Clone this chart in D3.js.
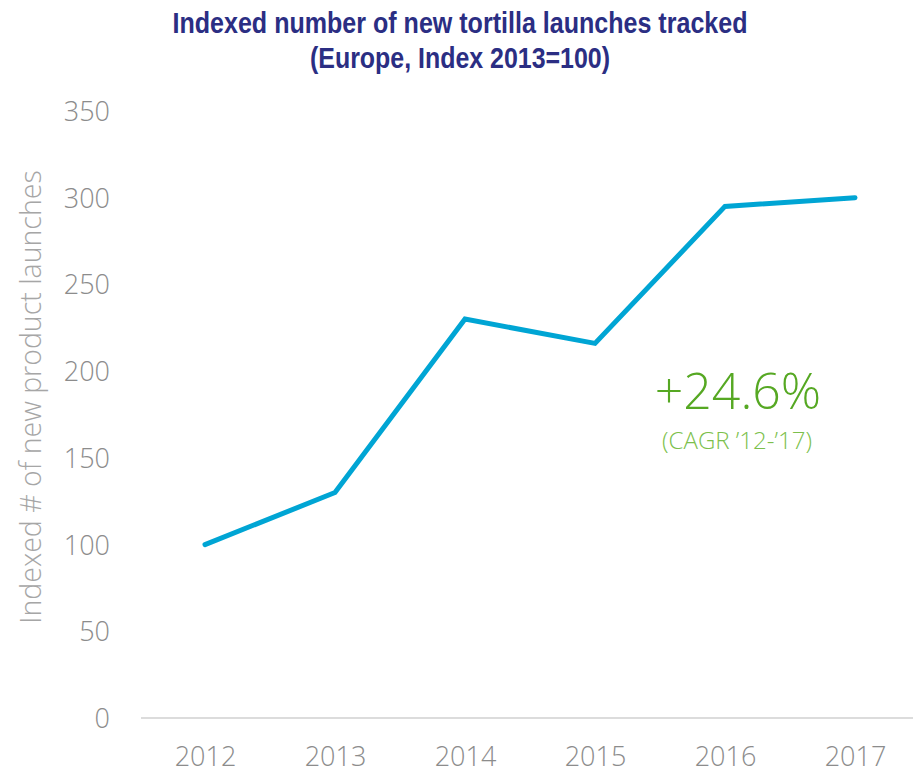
<!DOCTYPE html>
<html>
<head>
<meta charset="utf-8">
<script src="https://cdn.jsdelivr.net/npm/d3@7"></script>
<style>
  html, body { margin: 0; padding: 0; background: #fff; }
  svg { display: block; }
</style>
</head>
<body>
<svg id="chart" width="913" height="784"></svg>
<script>
// Indexed tortilla launches, Europe
const years = ["2012", "2013", "2014", "2015", "2016", "2017"];
const indexValues = [100, 130, 230, 216, 295, 300];
const yTicks = [0, 50, 100, 150, 200, 250, 300, 350];
const titleLines = ["Indexed number of new tortilla launches tracked", "(Europe, Index 2013=100)"];
const yAxisTitle = "Indexed # of new product launches";
const growthLabel = "+24.6%";
const growthNote = "(CAGR \u201912-\u201917)";

const svg = d3.select("#chart");
const lightFont = "'Segoe UI Light', 'Open Sans', 'Noto Sans', sans-serif";

const x = d3.scalePoint().domain(years).range([205, 855]);
const y = d3.scaleLinear().domain([0, 350]).range([718, 111]);

// Title (condensed bold)
const titleWidths = [575, 300];
svg.append("g").selectAll("text").data(titleLines).join("text")
  .attr("x", 460)
  .attr("y", (d, i) => 33 + i * 35)
  .attr("text-anchor", "middle")
  .attr("font-family", "'Liberation Sans Narrow', 'Arial Narrow', 'Liberation Sans', sans-serif")
  .attr("font-weight", "bold")
  .attr("font-size", 30)
  .attr("textLength", (d, i) => titleWidths[i])
  .attr("lengthAdjust", "spacingAndGlyphs")
  .attr("fill", "#2b2e83")
  .text(d => d);

// Baseline
svg.append("line")
  .attr("x1", 141).attr("x2", 913)
  .attr("y1", y(0)).attr("y2", y(0))
  .attr("stroke", "#dcdcdc").attr("stroke-width", 2);

// Y axis labels
const yAxis = d3.axisLeft(y).tickValues(yTicks).tickSize(0).tickPadding(0);
const yg = svg.append("g").attr("transform", "translate(110,0)").call(yAxis);
yg.select(".domain").remove();
yg.selectAll("text")
  .attr("font-family", lightFont)
  .attr("font-weight", 300)
  .attr("font-size", 27)
  .attr("fill", "#8c8c8c")
  .attr("dy", "0.35em");

// X axis labels
const xAxis = d3.axisBottom(x).tickSize(0).tickPadding(0);
const xg = svg.append("g").attr("transform", "translate(0,747)").call(xAxis);
xg.select(".domain").remove();
xg.selectAll("text")
  .attr("font-family", lightFont)
  .attr("font-weight", 300)
  .attr("font-size", 27)
  .attr("fill", "#8c8c8c")
  .attr("dy", "0.7em");

// Y axis title
svg.append("text")
  .attr("transform", "translate(41,397) rotate(-90)")
  .attr("text-anchor", "middle")
  .attr("font-family", lightFont)
  .attr("font-weight", 300)
  .attr("font-size", 28.5)
  .attr("fill", "#a6a6a6")
  .text(yAxisTitle);

// Series line
const line = d3.line()
  .x((d, i) => x(years[i]))
  .y(d => y(d));
svg.append("path")
  .datum(indexValues)
  .attr("d", line)
  .attr("fill", "none")
  .attr("stroke", "#00a5d4")
  .attr("stroke-width", 5)
  .attr("stroke-linejoin", "miter")
  .attr("stroke-linecap", "round");

// Growth annotation
svg.append("text")
  .attr("x", 738).attr("y", 409)
  .attr("text-anchor", "middle")
  .attr("font-family", lightFont)
  .attr("font-weight", 300)
  .attr("font-size", 50)
  .attr("fill", "#56a823")
  .text(growthLabel);
svg.append("text")
  .attr("x", 737).attr("y", 449)
  .attr("text-anchor", "middle")
  .attr("font-family", lightFont)
  .attr("font-weight", 300)
  .attr("font-size", 23)
  .attr("textLength", 150)
  .attr("lengthAdjust", "spacingAndGlyphs")
  .attr("fill", "#7cbf4c")
  .text(growthNote);
</script>
</body>
</html>
